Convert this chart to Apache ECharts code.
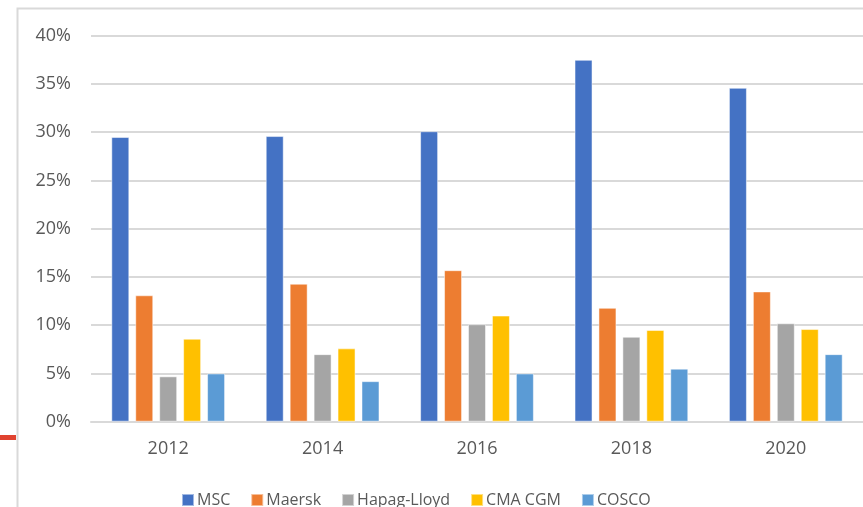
<!DOCTYPE html>
<html>
<head>
<meta charset="utf-8">
<script src="https://cdn.jsdelivr.net/npm/echarts@6/dist/echarts.min.js"></script>
<style>
  html, body { margin: 0; padding: 0; background: #fff; }
  #chart { width: 863px; height: 507px; }
</style>
</head>
<body>
<div id="chart"></div>
<script>
// 年份
const years = ['2012', '2014', '2016', '2018', '2020']
// 各船公司份额 (%)
const msc = [29.5, 29.6, 30.1, 37.5, 34.6]
const maersk = [13.1, 14.3, 15.7, 11.8, 13.5]
const hapag = [4.7, 7.0, 10.1, 8.8, 10.2]
const cmaCgm = [8.6, 7.6, 11.0, 9.5, 9.6]
const cosco = [5.0, 4.2, 5.0, 5.5, 7.0]

const names = ['MSC', 'Maersk', 'Hapag-Lloyd', 'CMA CGM', 'COSCO']
const colors = ['#4472c4', '#ed7d31', '#a5a5a5', '#ffc000', '#5b9bd5']
const values = [msc, maersk, hapag, cmaCgm, cosco]

const font = '"Open Sans", "Noto Sans", sans-serif'

let chart = echarts.init(document.getElementById('chart'))
chart.setOption({
  animation: false,
  color: colors,
  textStyle: { fontFamily: font },
  grid: { left: 91, right: -3, top: 35.7, bottom: 85.3 },
  legend: {
    left: 176,
    top: 487,
    itemWidth: 12,
    itemHeight: 12,
    itemGap: 20,
    icon: 'rect',
    textStyle: { fontSize: 16, color: '#595959', fontFamily: font, padding: [0, 0, 0, -2] },
    data: names
  },
  xAxis: {
    type: 'category',
    data: years,
    axisLine: { lineStyle: { color: '#d9d9d9', width: 2 } },
    axisTick: { show: false },
    axisLabel: { fontSize: 18, color: '#595959', margin: 18 }
  },
  yAxis: {
    type: 'value',
    min: 0,
    max: 40,
    interval: 5,
    axisLine: { show: false },
    axisTick: { show: false },
    splitLine: { lineStyle: { color: '#d9d9d9', width: 2 } },
    axisLabel: { fontSize: 18, color: '#595959', margin: 20, formatter: '{value}%' }
  },
  series: names.map((n, i) => ({
    name: n,
    type: 'bar',
    barWidth: 18,
    barGap: '33%',
    itemStyle: { borderColor: 'rgba(255,255,255,0.5)', borderWidth: 1 },
    data: values[i]
  })),
  graphic: [
    // 外框
    {
      type: 'rect',
      shape: { x: 17.5, y: 8.5, width: 900, height: 600 },
      style: { fill: 'none', stroke: '#d9d9d9', lineWidth: 2 },
      z: -1
    },
    // 左侧红线
    {
      type: 'rect',
      shape: { x: 0, y: 435, width: 16, height: 5 },
      style: { fill: '#e0422f' }
    }
  ]
})
</script>
</body>
</html>
